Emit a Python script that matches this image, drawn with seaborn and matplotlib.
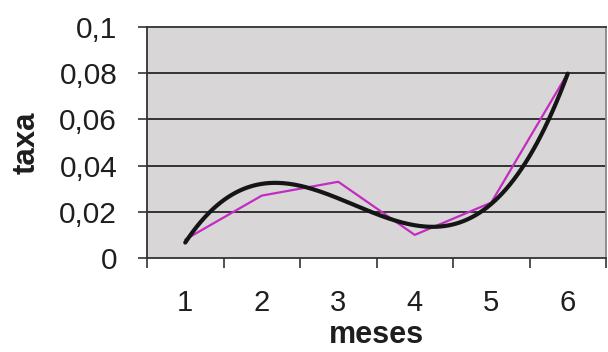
import numpy as np
import pandas as pd
import matplotlib
matplotlib.use("Agg")
import matplotlib.pyplot as plt
import seaborn as sns
from matplotlib.ticker import FixedLocator

meses = [1, 2, 3, 4, 5, 6]
taxa = [0.008, 0.027, 0.033, 0.010, 0.024, 0.080]
yticks = [0, 0.02, 0.04, 0.06, 0.08, 0.1]
ytick_labels = ["0", "0,02", "0,04", "0,06", "0,08", "0,1"]
xlabel = "meses"
ylabel = "taxa"

sns.set_style("white")
plt.rcParams["font.family"] = ["Liberation Sans", "DejaVu Sans"]

fig = plt.figure(figsize=(6.08, 3.52), dpi=100)
ax = fig.add_axes([147/608, 1-258/352, (606-147)/608, (258-27)/352])
ax.set_facecolor("#d8d6d6")

df = pd.DataFrame({"meses": meses, "taxa": taxa})
sns.lineplot(data=df, x="meses", y="taxa", ax=ax, color="#c42bc4", lw=1.6, zorder=3)

coef = np.polyfit(meses, taxa, 3)
xs = np.linspace(min(meses), max(meses), 200)
trend = pd.DataFrame({"meses": xs, "taxa": np.polyval(coef, xs)})
sns.lineplot(data=trend, x="meses", y="taxa", ax=ax, color="#151515", lw=3.0, zorder=4)

ax.set_xlim(0.5, 6.5)
ax.set_ylim(0, 0.1)
ax.set_yticks(yticks)
ax.set_yticklabels(ytick_labels)
ax.set_xticks(meses)
ax.set_xticklabels([str(m) for m in meses])
ax.xaxis.set_minor_locator(FixedLocator(np.arange(0.5, 7.0, 1.0)))
ax.tick_params(axis="x", which="major", length=0, pad=22, labelsize=21, colors="#1e1e1e")
ax.tick_params(axis="x", which="minor", length=7, width=1.2, direction="out", color="#333333", bottom=True)
ax.tick_params(axis="y", which="major", length=6.5, width=1.2, direction="out", left=True,
               color="#333333", labelsize=21.5, labelcolor="#1e1e1e", pad=15)
for y in yticks[1:-1]:
    ax.axhline(y, color="#333333", lw=1.4, zorder=2)

for s in ["left", "bottom", "top", "right"]:
    ax.spines[s].set_visible(True)
    ax.spines[s].set_color("#333333")
    ax.spines[s].set_linewidth(1.3)
ax.spines["right"].set_color("#888888")

ax.set_xlabel(xlabel, fontsize=22, fontweight="bold", labelpad=2.5, color="#1e1e1e")
ax.set_ylabel(ylabel, fontsize=22.5, fontweight="bold", labelpad=13, color="#1e1e1e")

fig.savefig("out.png", dpi=100)
